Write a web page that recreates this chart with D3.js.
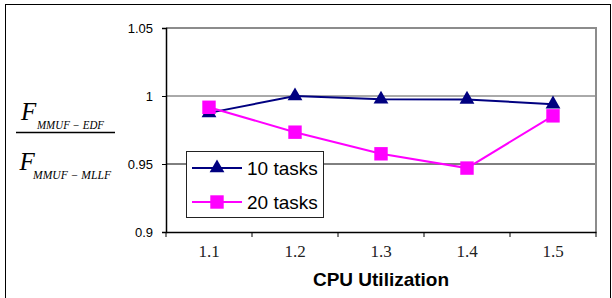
<!DOCTYPE html>
<html>
<head>
<meta charset="utf-8">
<script src="https://cdn.jsdelivr.net/npm/d3@7"></script>
<style>
    body { margin: 0; background: #fff; }
    svg { display: block; }
</style>
</head>
<body>
<div id="chart"></div>
<script>
let categories = ["1.1", "1.2", "1.3", "1.4", "1.5"];
let tasks10 = [0.9876, 1.0, 0.9976, 0.9975, 0.994];
let tasks20 = [0.9917, 0.9734, 0.9575, 0.947, 0.9854];
let yTicks = [0.9, 0.95, 1, 1.05];
let seriesNames = ["10 tasks", "20 tasks"];

let width = 612,
    height = 298;

let margin = {top: 28, right: 16, bottom: 66, left: 166};

let svg = d3.select("#chart")
    .append("svg")
    .attr("width", width)
    .attr("height", height);

// outer chart frame
svg.append("rect")
    .attr("x", 5.5).attr("y", 4.5)
    .attr("width", 605).attr("height", 310)
    .attr("fill", "#fff")
    .attr("stroke", "#000")
    .attr("stroke-width", 1);

let x = d3.scaleBand()
    .domain(categories)
    .range([margin.left, width - margin.right])
    .padding(0);

let y = d3.scaleLinear()
    .domain([0.9, 1.05])
    .range([height - margin.bottom, margin.top]);

let cx = d => x(d) + x.bandwidth() / 2;

// gridlines
svg.append("g")
    .selectAll("line")
    .data([0.95, 1])
    .enter().append("line")
    .attr("x1", margin.left)
    .attr("x2", width - margin.right)
    .attr("y1", d => y(d))
    .attr("y2", d => y(d))
    .attr("stroke", d => d == 1 ? "#555" : "#000")
    .attr("stroke-width", 1);

// plot area border (top and right)
svg.append("path")
    .attr("d", "M" + margin.left + "," + y(1.05) + "H" + (width - margin.right) + "V" + y(0.9))
    .attr("fill", "none")
    .attr("stroke", "#8c8c8c")
    .attr("stroke-width", 2);

// y axis
let yAxis = svg.append("g")
    .attr("transform", "translate(" + margin.left + ",0)")
    .call(d3.axisLeft(y).tickValues(yTicks).tickSize(4).tickPadding(9).tickFormat(d => String(d)));
yAxis.select(".domain").attr("stroke", "#000").attr("stroke-width", 1.5);
yAxis.selectAll("text")
    .attr("font-family", "Liberation Sans, Arial, sans-serif")
    .attr("font-size", 13)
    .attr("fill", "#000");

// x axis
let xAxis = svg.append("g")
    .attr("transform", "translate(0," + y(0.9) + ")")
    .call(d3.axisBottom(x).tickSize(0).tickSizeOuter(0));
xAxis.select(".domain").attr("stroke", "#000").attr("stroke-width", 1.5);
xAxis.selectAll("text")
    .attr("y", 25)
    .attr("dy", 0)
    .attr("font-family", "Liberation Serif, Times New Roman, serif")
    .attr("font-size", 17)
    .attr("fill", "#222");

let bounds = categories.map(d => x(d)).concat([x(categories[categories.length - 1]) + x.bandwidth()]);
xAxis.selectAll(".bound")
    .data(bounds)
    .enter().append("line")
    .attr("class", "bound")
    .attr("x1", d => d).attr("x2", d => d)
    .attr("y1", 0).attr("y2", 5)
    .attr("stroke", "#000");

svg.append("text")
    .attr("x", (margin.left + width - margin.right) / 2)
    .attr("y", 286)
    .attr("text-anchor", "middle")
    .attr("font-family", "Liberation Sans, Arial, sans-serif")
    .attr("font-weight", "bold")
    .attr("font-size", 19)
    .text("CPU Utilization");

// y label as fraction
let frac = svg.append("g")
    .attr("font-family", "Liberation Serif, Times New Roman, serif")
    .attr("font-style", "italic")
    .attr("fill", "#000");
frac.append("text").attr("x", 21).attr("y", 120).attr("font-size", 25).text("F");
frac.append("text").attr("x", 37).attr("y", 128.5).attr("font-size", 11.5)
    .attr("textLength", 67).attr("lengthAdjust", "spacingAndGlyphs").text("MMUF \u2212 EDF");
frac.append("line")
    .attr("x1", 16).attr("x2", 115).attr("y1", 132.5).attr("y2", 132.5)
    .attr("stroke", "#000").attr("stroke-width", 1.5);
frac.append("text").attr("x", 19.5).attr("y", 170).attr("font-size", 25).text("F");
frac.append("text").attr("x", 33).attr("y", 178.5).attr("font-size", 11.5)
    .attr("textLength", 78).attr("lengthAdjust", "spacingAndGlyphs").text("MMUF \u2212 MLLF");

// series
let series = [
    {name: seriesNames[0], values: tasks10, color: "#000080", symbol: d3.symbolTriangle, size: 95},
    {name: seriesNames[1], values: tasks20, color: "#ff00ff", symbol: d3.symbolSquare, size: 180}
];

let line = d3.line()
    .x((d, i) => cx(categories[i]))
    .y(d => y(d));

series.forEach(function (s) {
    let g = svg.append("g");
    g.append("path")
        .attr("d", line(s.values))
        .attr("fill", "none")
        .attr("stroke", s.color)
        .attr("stroke-width", 2);
    g.selectAll("path.marker")
        .data(s.values)
        .enter().append("path")
        .attr("class", "marker")
        .attr("transform", (d, i) => "translate(" + cx(categories[i]) + "," + y(d) + ")")
        .attr("d", d3.symbol().type(s.symbol).size(s.size))
        .attr("fill", s.color);
});

// legend
let legend = svg.append("g");
legend.append("rect")
    .attr("x", 186.5).attr("y", 151.5)
    .attr("width", 137).attr("height", 66)
    .attr("fill", "#fff")
    .attr("stroke", "#222")
    .attr("stroke-width", 1);

let items = legend.selectAll(".item")
    .data(series)
    .enter().append("g")
    .attr("class", "item")
    .attr("transform", (d, i) => "translate(0," + (168 + i * 34) + ")");
items.append("line")
    .attr("x1", 192).attr("x2", 242)
    .attr("stroke", d => d.color)
    .attr("stroke-width", 2);
items.append("path")
    .attr("transform", "translate(217,0)")
    .attr("d", d => d3.symbol().type(d.symbol).size(d.size)())
    .attr("fill", d => d.color);
items.append("text")
    .attr("x", 247)
    .attr("dy", "0.36em")
    .attr("font-family", "Liberation Sans, Arial, sans-serif")
    .attr("font-size", 19)
    .text(d => d.name);
</script>
</body>
</html>
